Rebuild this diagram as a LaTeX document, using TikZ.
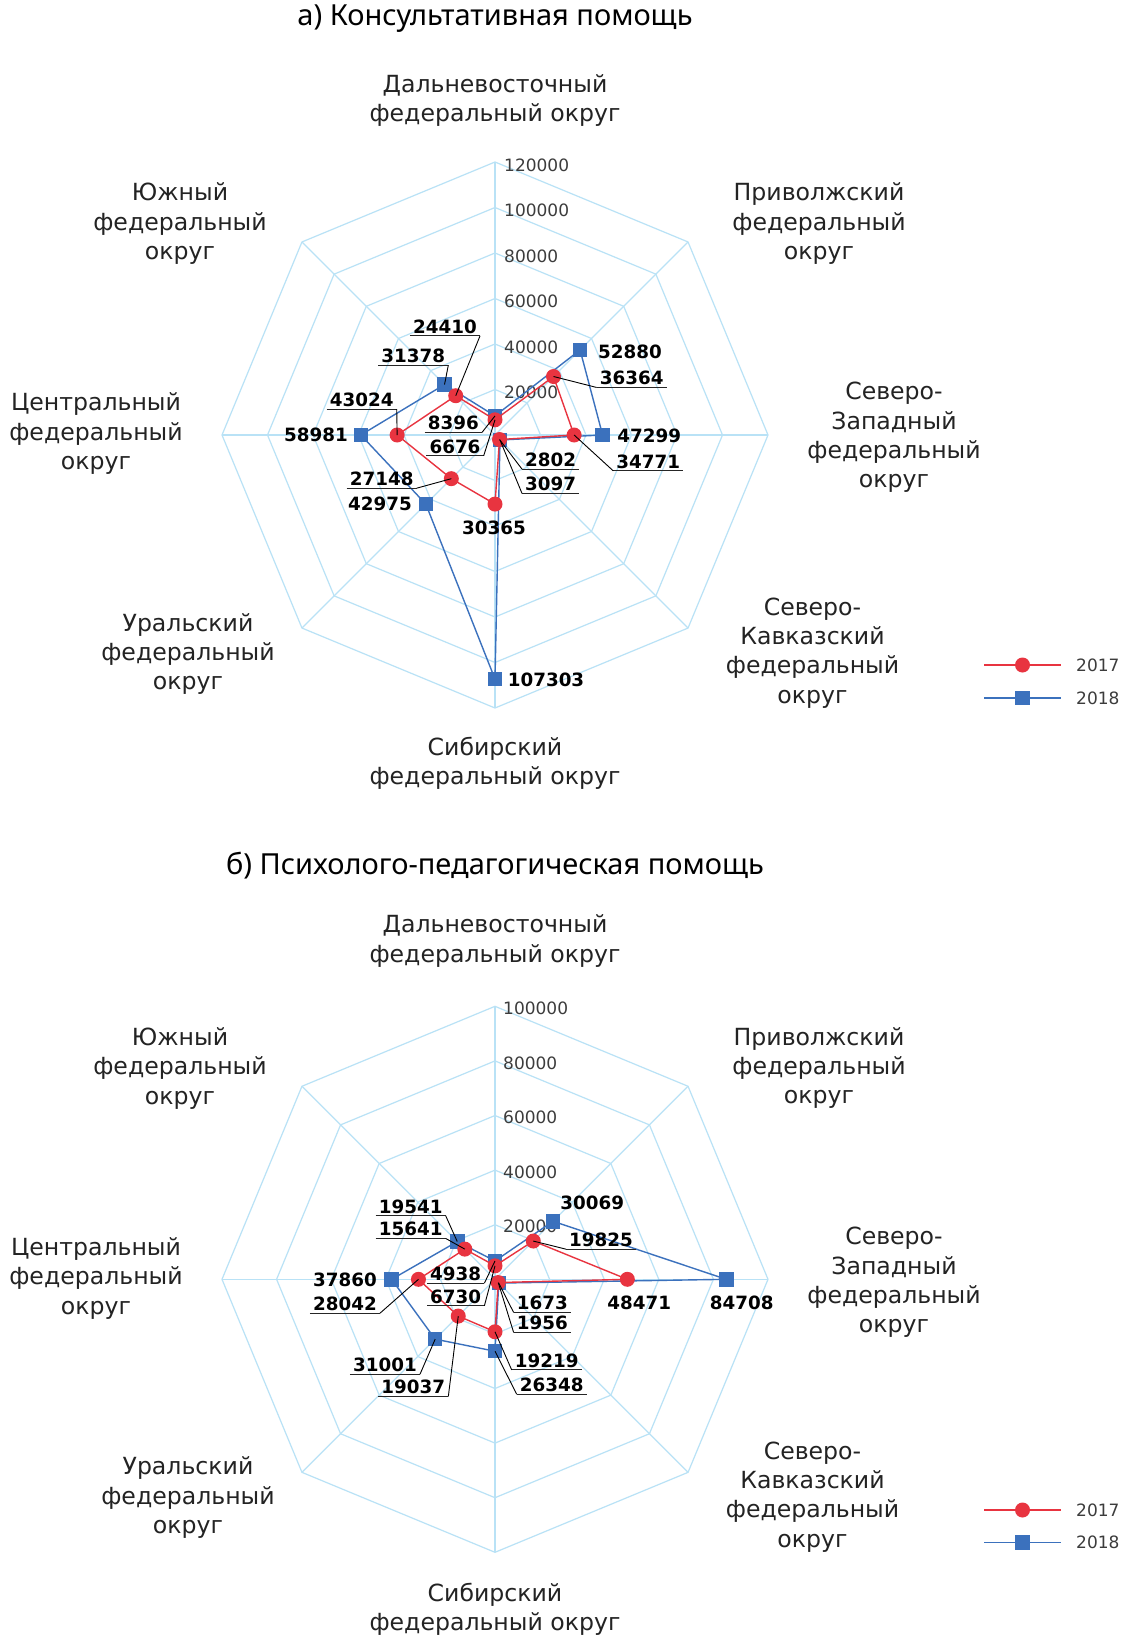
\documentclass[tikz,border=0pt]{standalone}
\usepackage{fontspec}
\setmainfont{DejaVu Sans}
\newfontfamily\titlefont{Noto Sans}
\definecolor{gridc}{RGB}{185,226,246}
\definecolor{red17}{RGB}{232,52,64}
\definecolor{blue18}{RGB}{59,113,189}
\definecolor{tickc}{RGB}{60,60,60}
\definecolor{axc}{RGB}{35,35,35}
\tikzset{
  gridline/.style={draw=gridc, line width=1.2pt},
  ser17/.style={draw=red17, line width=1.4pt, line join=round},
  ser18/.style={draw=blue18, line width=1.4pt, line join=round},
  m17/.style={circle, fill=red17, minimum size=15pt, inner sep=0pt},
  m18/.style={rectangle, fill=blue18, minimum size=14.5pt, inner sep=0pt},
  val/.style={font=\fontsize{18.3}{18.3}\selectfont\bfseries, inner sep=0pt, text=black},
  uval/.style={val, inner xsep=3pt},
  uline/.style={draw=black!85, line width=1.2pt},
  leader/.style={draw=black, line width=0.9pt},
  ticklbl/.style={font=\fontsize{17}{17}\selectfont, text=tickc, anchor=west, inner sep=0pt},
  axl/.style={font=\fontsize{23.6}{29.3}\selectfont, align=center, text=axc, inner sep=0pt},
  ttl/.style={font=\titlefont\fontsize{29}{29}\selectfont, text=black, inner sep=0pt},
  legl/.style={font=\fontsize{17}{17}\selectfont, text=tickc, anchor=west, inner sep=0pt},
}
\newcommand\ulab[3]{\node[uval] (#1) at (#2) {#3};
  \draw[uline] ([yshift=-2.5pt]#1.base west) -- ([yshift=-2.5pt]#1.base east);}
\begin{document}
\begin{tikzpicture}[x=1pt,y=-1pt]
\useasboundingbox[fill=white] (0,0) rectangle (1129,1638);

% ================= Chart a =================
\node[ttl] (ta) at (495,19) {а) Консультативная помощь};
\begin{scope}[shift={(495,435)}]
  \foreach \k in {1,...,6}{
    \pgfmathsetmacro\r{\k*45.5}
    \draw[gridline] (90:\r pt) -- (45:\r pt) -- (0:\r pt) -- (-45:\r pt) -- (-90:\r pt) -- (-135:\r pt) -- (180:\r pt) -- (135:\r pt) -- cycle;
  }
  \foreach \a in {90,45,0,-45,-90,-135,180,135}
    \draw[gridline] (0,0) -- (\a:273pt);
  \foreach \k/\t in {1/20000,2/40000,3/60000,4/80000,5/100000,6/120000}
    \node[ticklbl] (tka\k) at (9,{-\k*45.5+3}) {\t};
  \foreach \r [count=\i] in {15.19,82.73,79.10,6.37,69.08,61.76,97.88,55.53}{
    \pgfmathsetmacro\a{135-45*\i}
    \coordinate (ar\i) at (\a:\r pt);}
  \foreach \r [count=\i] in {19.10,120.30,107.60,7.05,244.11,97.77,134.18,71.38}{
    \pgfmathsetmacro\a{135-45*\i}
    \coordinate (ab\i) at (\a:\r pt);}
  \draw[ser18] (ab1) -- (ab2) -- (ab3) -- (ab4) -- (ab5) -- (ab6) -- (ab7) -- (ab8) -- cycle;
  \foreach \i in {1,...,8} \node[m18] (mab\i) at (ab\i) {};
  \draw[ser17] (ar1) -- (ar2) -- (ar3) -- (ar4) -- (ar5) -- (ar6) -- (ar7) -- (ar8) -- cycle;
  \foreach \i in {1,...,8} \node[m17] (mar\i) at (ar\i) {};
\end{scope}

% axis labels a
\node[axl] (la1) at (495,100.3) {Дальневосточный\\федеральный округ};
\node[axl] (la2) at (819,223.5) {Приволжский\\федеральный\\округ};
\node[axl] (la3) at (894,437.5) {Северо-\\Западный\\федеральный\\округ};
\node[axl] (la4) at (812.5,653) {Северо-\\Кавказский\\федеральный\\округ};
\node[axl] (la5) at (495,763) {Сибирский\\федеральный округ};
\node[axl] (la6) at (188,654) {Уральский\\федеральный\\округ};
\node[axl] (la7) at (96,433.5) {Центральный\\федеральный\\округ};
\node[axl] (la8) at (180,223.5) {Южный\\федеральный\\округ};

% value labels a
\ulab{va24410}{445,326.7}{24410}
\ulab{va31378}{413.3,356}{31378}
\ulab{va43024}{361.7,400}{43024}
\node[val] (va58981) at (316,435) {58981};
\ulab{va8396}{453.3,423.3}{8396}
\ulab{va6676}{455,446.7}{6676}
\node[val] (va52880) at (630,351.7) {52880};
\ulab{va36364}{631.7,378.3}{36364}
\node[val] (va47299) at (649.3,436) {47299};
\ulab{va34771}{648.3,461.7}{34771}
\ulab{va2802}{550.7,460}{2802}
\ulab{va3097}{550.7,484.3}{3097}
\ulab{va27148}{381.7,479}{27148}
\node[val] (va42975) at (380,504) {42975};
\node[val] (va30365) at (494,527.7) {30365};
\node[val] (va107303) at (546,680) {107303};

\draw[leader] ([yshift=-2.5pt]va24410.base east) -- (ar8);
\draw[leader] ([yshift=-2.5pt]va31378.base east) -- (ab8);
\draw[leader] ([yshift=-2.5pt]va43024.base east) -- (ar7);
\draw[leader] ([yshift=-2.5pt]va8396.base east) -- (ab1);
\draw[leader] ([yshift=-2.5pt]va6676.base east) -- (ar1);
\draw[leader] ([yshift=-2.5pt]va36364.base west) -- (ar2);
\draw[leader] ([yshift=-2.5pt]va34771.base west) -- (ar3);
\draw[leader] ([yshift=-2.5pt]va2802.base west) -- (ar4);
\draw[leader] ([yshift=-2.5pt]va3097.base west) -- (ab4);
\draw[leader] ([yshift=-2.5pt]va27148.base east) -- (ar6);

% legend a
\coordinate (lga1) at (984,665); \coordinate (lga2) at (1061,665);
\draw[ser17] (lga1) -- (lga2);
\node[m17] (lgam1) at (1022.5,665) {};
\node[legl] (lgat1) at (1076,665) {2017};
\coordinate (lgb1) at (984,698); \coordinate (lgb2) at (1061,698);
\draw[ser18] (lgb1) -- (lgb2);
\node[m18] (lgam2) at (1022.5,698) {};
\node[legl] (lgat2) at (1076,698) {2018};

% ================= Chart b =================
\node[ttl] (tb) at (495,866) {б) Психолого-педагогическая помощь};
\begin{scope}[shift={(495,1279.3)}]
  \foreach \k in {1,...,5}{
    \pgfmathsetmacro\r{\k*54.6}
    \draw[gridline] (90:\r pt) -- (45:\r pt) -- (0:\r pt) -- (-45:\r pt) -- (-90:\r pt) -- (-135:\r pt) -- (180:\r pt) -- (135:\r pt) -- cycle;
  }
  \foreach \a in {90,45,0,-45,-90,-135,180,135}
    \draw[gridline] (0,0) -- (\a:273pt);
  \foreach \k/\t in {1/20000,2/40000,3/60000,4/80000,5/100000}
    \node[ticklbl] (tkb\k) at (8,{-\k*54.6+2}) {\t};
  \foreach \r [count=\i] in {13.48,54.12,132.33,4.57,52.47,51.97,76.55,42.70}{
    \pgfmathsetmacro\a{135-45*\i}
    \coordinate (br\i) at (\a:\r pt);}
  \foreach \r [count=\i] in {18.37,82.09,231.25,5.34,71.93,84.63,103.36,53.35}{
    \pgfmathsetmacro\a{135-45*\i}
    \coordinate (bb\i) at (\a:\r pt);}
  \draw[ser18] (bb1) -- (bb2) -- (bb3) -- (bb4) -- (bb5) -- (bb6) -- (bb7) -- (bb8) -- cycle;
  \foreach \i in {1,...,8} \node[m18] (mbb\i) at (bb\i) {};
  \draw[ser17] (br1) -- (br2) -- (br3) -- (br4) -- (br5) -- (br6) -- (br7) -- (br8) -- cycle;
  \foreach \i in {1,...,8} \node[m17] (mbr\i) at (br\i) {};
\end{scope}

% axis labels b
\node[axl] (lb1) at (495,941) {Дальневосточный\\федеральный округ};
\node[axl] (lb2) at (819,1068) {Приволжский\\федеральный\\округ};
\node[axl] (lb3) at (894,1282.5) {Северо-\\Западный\\федеральный\\округ};
\node[axl] (lb4) at (812.5,1497) {Северо-\\Кавказский\\федеральный\\округ};
\node[axl] (lb5) at (495,1609.4) {Сибирский\\федеральный округ};
\node[axl] (lb6) at (188,1497.7) {Уральский\\федеральный\\округ};
\node[axl] (lb7) at (96,1278.4) {Центральный\\федеральный\\округ};
\node[axl] (lb8) at (180,1068.4) {Южный\\федеральный\\округ};

% value labels b
\ulab{vb19541}{410.7,1206.7}{19541}
\ulab{vb15641}{410.7,1229.3}{15641}
\node[val] (vb37860) at (345,1280) {37860};
\ulab{vb28042}{345,1304}{28042}
\ulab{vb4938}{455.7,1274}{4938}
\ulab{vb6730}{455.7,1296.7}{6730}
\node[val] (vb30069) at (592.3,1203.3) {30069};
\ulab{vb19825}{601,1240}{19825}
\node[val] (vb48471) at (639.3,1303.3) {48471};
\node[val] (vb84708) at (741.7,1303.3) {84708};
\ulab{vb1673}{542.3,1303.3}{1673}
\ulab{vb1956}{542.3,1323.3}{1956}
\ulab{vb19219}{546.7,1360.7}{19219}
\ulab{vb26348}{551.7,1385}{26348}
\ulab{vb31001}{385,1365}{31001}
\ulab{vb19037}{413.3,1387.3}{19037}

\draw[leader] ([yshift=-2.5pt]vb19541.base east) -- (bb8);
\draw[leader] ([yshift=-2.5pt]vb15641.base east) -- (br8);
\draw[leader] ([yshift=-2.5pt]vb28042.base east) -- (br7);
\draw[leader] ([yshift=-2.5pt]vb4938.base east) -- (bb1);
\draw[leader] ([yshift=-2.5pt]vb6730.base east) -- (br1);
\draw[leader] ([yshift=-2.5pt]vb19825.base west) -- (br2);
\draw[leader] ([yshift=-2.5pt]vb1673.base west) -- (bb4);
\draw[leader] ([yshift=-2.5pt]vb1956.base west) -- (br4);
\draw[leader] ([yshift=-2.5pt]vb19219.base west) -- (br5);
\draw[leader] ([yshift=-2.5pt]vb26348.base west) -- (bb5);
\draw[leader] ([yshift=-2.5pt]vb31001.base east) -- (bb6);
\draw[leader] ([yshift=-2.5pt]vb19037.base east) -- (br6);

% legend b
\coordinate (lgc1) at (984,1510); \coordinate (lgc2) at (1061,1510);
\draw[ser17] (lgc1) -- (lgc2);
\node[m17] (lgbm1) at (1022.5,1510) {};
\node[legl] (lgbt1) at (1076,1510) {2017};
\coordinate (lgd1) at (984,1542.5); \coordinate (lgd2) at (1061,1542.5);
\draw[ser18] (lgd1) -- (lgd2);
\node[m18] (lgbm2) at (1022.5,1542.5) {};
\node[legl] (lgbt2) at (1076,1542.5) {2018};
\end{tikzpicture}
\end{document}
